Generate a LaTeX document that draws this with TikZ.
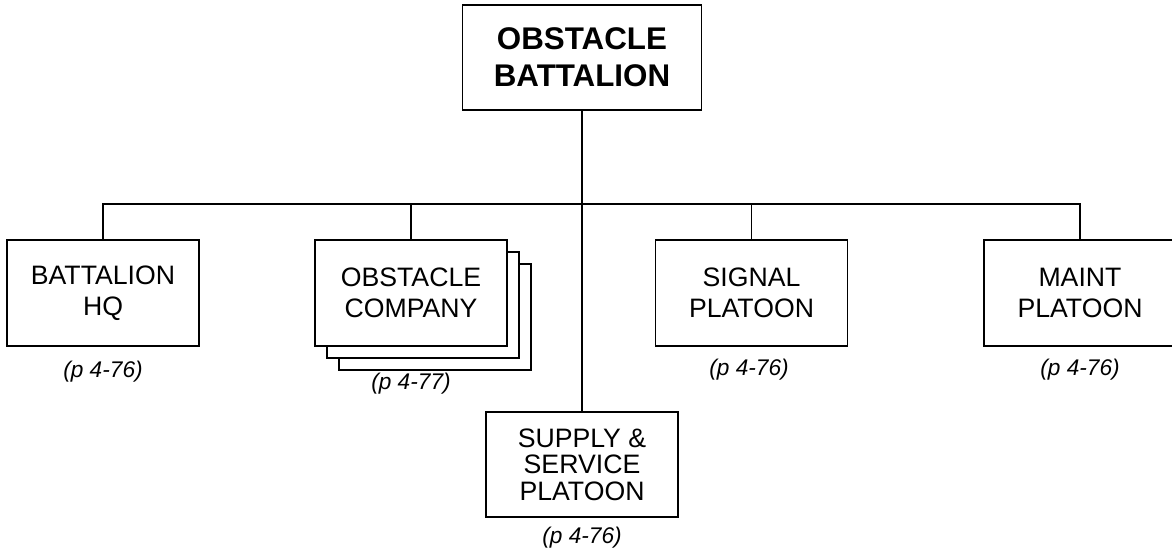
\documentclass[tikz,border=0pt]{standalone}
\usepackage{fontspec}
\setmainfont{Liberation Sans}
\usetikzlibrary{shadows}

\begin{document}
\begin{tikzpicture}[x=0.75pt,y=-0.75pt,line width=1.2pt,
  unit/.style={draw,fill=white,align=center,minimum width=144pt,minimum height=79.5pt,
    inner sep=0pt,font=\fontsize{20}{23.5}\selectfont},
  ref/.style={font=\fontsize{17}{19}\selectfont\itshape,inner sep=0pt}]
\useasboundingbox (0,0) rectangle (1172,557);
% head of the chart
\node[draw,align=center,minimum width=179pt,minimum height=78.75pt,inner sep=0pt,
  font=\fontsize{23.5}{27.75}\selectfont\bfseries] (obbn) at (582,57.5) {OBSTACLE\\BATTALION};
% the units
\node[unit] (bnhq) at (103,293) {BATTALION\\HQ};
\node[unit,double copy shadow={shadow xshift=9pt,shadow yshift=-9pt}] (obco) at (411,293) {OBSTACLE\\COMPANY};
\node[unit] (sigpl) at (751.5,293) {SIGNAL\\PLATOON};
\node[unit] (mntpl) at (1080,293) {MAINT\\PLATOON};
\node[unit,font=\fontsize{20}{20}\selectfont,minimum height=78.75pt] (sspl) at (582,464.5) {SUPPLY \&\\SERVICE\\PLATOON};
% page references
\node[ref] (bnhqref) at (103,372) {(p 4-76)};
\node[ref] (obcoref) at (411,384) {(p 4-77)};
\node[ref] (sigplref) at (749,370) {(p 4-76)};
\node[ref] (mntplref) at (1080,370) {(p 4-76)};
\node[ref] (ssplref) at (582,538) {(p 4-76)};
% lines
\coordinate (bus) at (582,204);
\draw (obbn.south) -- (sspl.north);
\draw (bnhq.north) |- (bus) -| (mntpl.north);
\draw (obco.north) -- (obco.north |- bus);
\draw (sigpl.north) -- (sigpl.north |- bus);
\end{tikzpicture}
\end{document}
